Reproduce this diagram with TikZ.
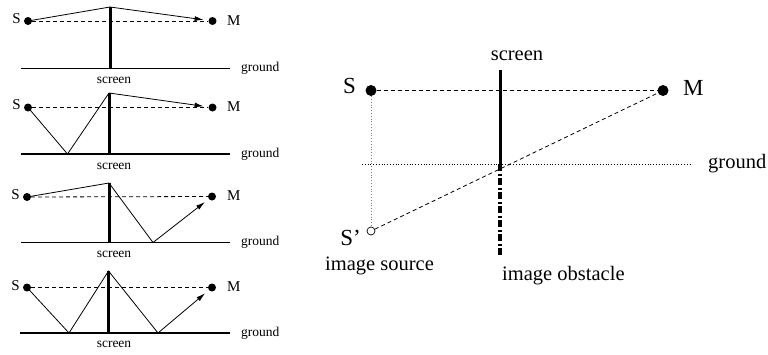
\documentclass[tikz,border=0pt]{standalone}
\usepackage{fontspec}
\setmainfont{Liberation Serif}
\usetikzlibrary{arrows.meta}
\begin{document}
\begin{tikzpicture}[x=1pt,y=-1pt,
 dot/.style={circle,fill,inner sep=0pt,minimum size=8pt},
 bigdot/.style={circle,fill,inner sep=0pt,minimum size=11pt},
 odot/.style={circle,draw,fill=white,inner sep=0pt,minimum size=8pt,line width=0.7pt},
 ray/.style={line width=0.8pt},
 arr/.style={ray,-{Latex[length=9pt,width=5pt]},shorten >=9pt},
 dsh/.style={line width=0.8pt,dash pattern=on 4pt off 3pt},
 gnd/.style={line width=1.1pt},
 scr/.style={line width=3pt},
 small/.style={font=\fontsize{13.5}{15}\selectfont,inner sep=0pt},
 lbl/.style={font=\fontsize{15}{17}\selectfont,inner sep=0pt},
 big/.style={font=\fontsize{20.5}{23}\selectfont,inner sep=0pt},
 bigl/.style={font=\fontsize{23}{26}\selectfont,inner sep=0pt}]
\useasboundingbox (0,0) rectangle (768,354);

% ---------- Panel 1 ----------
\coordinate (g1a) at (21,68.5); \coordinate (g1b) at (230,68.5);
\draw[gnd] (g1a) -- (g1b);
\coordinate (t1) at (110,7); \coordinate (b1) at (110,68.5);
\draw[scr] (t1) -- (b1);
\node[dot] (S1) at (28,21) {};
\node[dot] (M1) at (212.5,21) {};
\draw[dsh] (S1) -- (M1);
\draw[ray] (S1.center) -- (t1);
\draw[arr] (t1) -- (M1.center);
\node[lbl,anchor=base east] (S1l) at (21,23) {S};
\node[lbl,anchor=base west] (M1l) at (227,25) {M};
\node[small,anchor=base west] (G1l) at (241,71.5) {ground};
\node[small,anchor=base] (C1l) at (114,83.5) {screen};

% ---------- Panel 2 ----------
\coordinate (g2a) at (21,154); \coordinate (g2b) at (230,154);
\draw[gnd] (g2a) -- (g2b);
\coordinate (t2) at (109,93); \coordinate (b2) at (109,154);
\draw[scr] (t2) -- (b2);
\node[dot] (S2) at (28,107.5) {};
\node[dot] (M2) at (212.5,107.5) {};
\coordinate (r2) at (67.5,154);
\draw[dsh] (S2) -- (M2);
\draw[ray] (S2.center) -- (r2) -- (t2);
\draw[arr] (t2) -- (M2.center);
\node[lbl,anchor=base east] (S2l) at (21,109.5) {S};
\node[lbl,anchor=base west] (M2l) at (227,111.5) {M};
\node[small,anchor=base west] (G2l) at (241,157) {ground};
\node[small,anchor=base] (C2l) at (114,169) {screen};

% ---------- Panel 3 ----------
\coordinate (g3a) at (21,242.5); \coordinate (g3b) at (230,242.5);
\draw[gnd] (g3a) -- (g3b);
\coordinate (t3) at (109,183); \coordinate (b3) at (109,242.5);
\draw[scr] (t3) -- (b3);
\node[dot] (S3) at (27,197) {};
\node[dot] (M3) at (212,196.5) {};
\coordinate (r3) at (153,242.5);
\draw[dsh] (S3) -- (M3);
\draw[ray] (S3.center) -- (t3) -- (r3);
\draw[arr] (r3) -- (M3.center);
\node[lbl,anchor=base east] (S3l) at (20,199.5) {S};
\node[lbl,anchor=base west] (M3l) at (227,200.5) {M};
\node[small,anchor=base west] (G3l) at (241,245.5) {ground};
\node[small,anchor=base] (C3l) at (114,257.5) {screen};

% ---------- Panel 4 ----------
\coordinate (g4a) at (20,333); \coordinate (g4b) at (230,333);
\draw[gnd] (g4a) -- (g4b);
\coordinate (t4) at (108.5,271); \coordinate (b4) at (108.5,333);
\draw[scr] (t4) -- (b4);
\node[dot] (S4) at (27,287.5) {};
\node[dot] (M4) at (212,287.5) {};
\coordinate (r4a) at (69,333); \coordinate (r4b) at (158,333);
\draw[dsh] (S4) -- (M4);
\draw[ray] (S4.center) -- (r4a) -- (t4) -- (r4b);
\draw[arr] (r4b) -- (M4.center);
\node[lbl,anchor=base east] (S4l) at (20,290) {S};
\node[lbl,anchor=base west] (M4l) at (227,291.5) {M};
\node[small,anchor=base west] (G4l) at (241,336) {ground};
\node[small,anchor=base] (C4l) at (114,347.5) {screen};

% ---------- Right panel ----------
\coordinate (gra) at (362,164); \coordinate (grb) at (690,164);
\draw[line width=0.8pt,dotted] (gra) -- (grb);
\coordinate (tr) at (500,70); \coordinate (br) at (500,164); \coordinate (ir) at (500,256);
\draw[scr] (tr) -- (br);
\draw[line width=3.5pt,dash pattern=on 7pt off 2.5pt on 2pt off 2.5pt] (br) -- (ir);
\node[bigdot] (S) at (371,90.5) {};
\node[bigdot] (M) at (663,90.5) {};
\node[odot] (Sp) at (371,231) {};
\draw[line width=0.8pt,gray,dotted] (S) -- (Sp);
\draw[dsh] (S) -- (M);
\draw[dsh] (Sp) -- (M);
\node[bigl,anchor=base east] (Sl) at (356,93) {S};
\node[bigl,anchor=base west] (Ml) at (683,95) {M};
\node[bigl,anchor=base east] (Spl) at (361,245) {S’};
\node[big,anchor=base] (Cl) at (517,60) {screen};
\node[big,anchor=base west] (Gl) at (708,168) {ground};
\node[big,anchor=base west] (ISl) at (325,270) {image source};
\node[big,anchor=base west] (IOl) at (502,280) {image obstacle};
\end{tikzpicture}
\end{document}
